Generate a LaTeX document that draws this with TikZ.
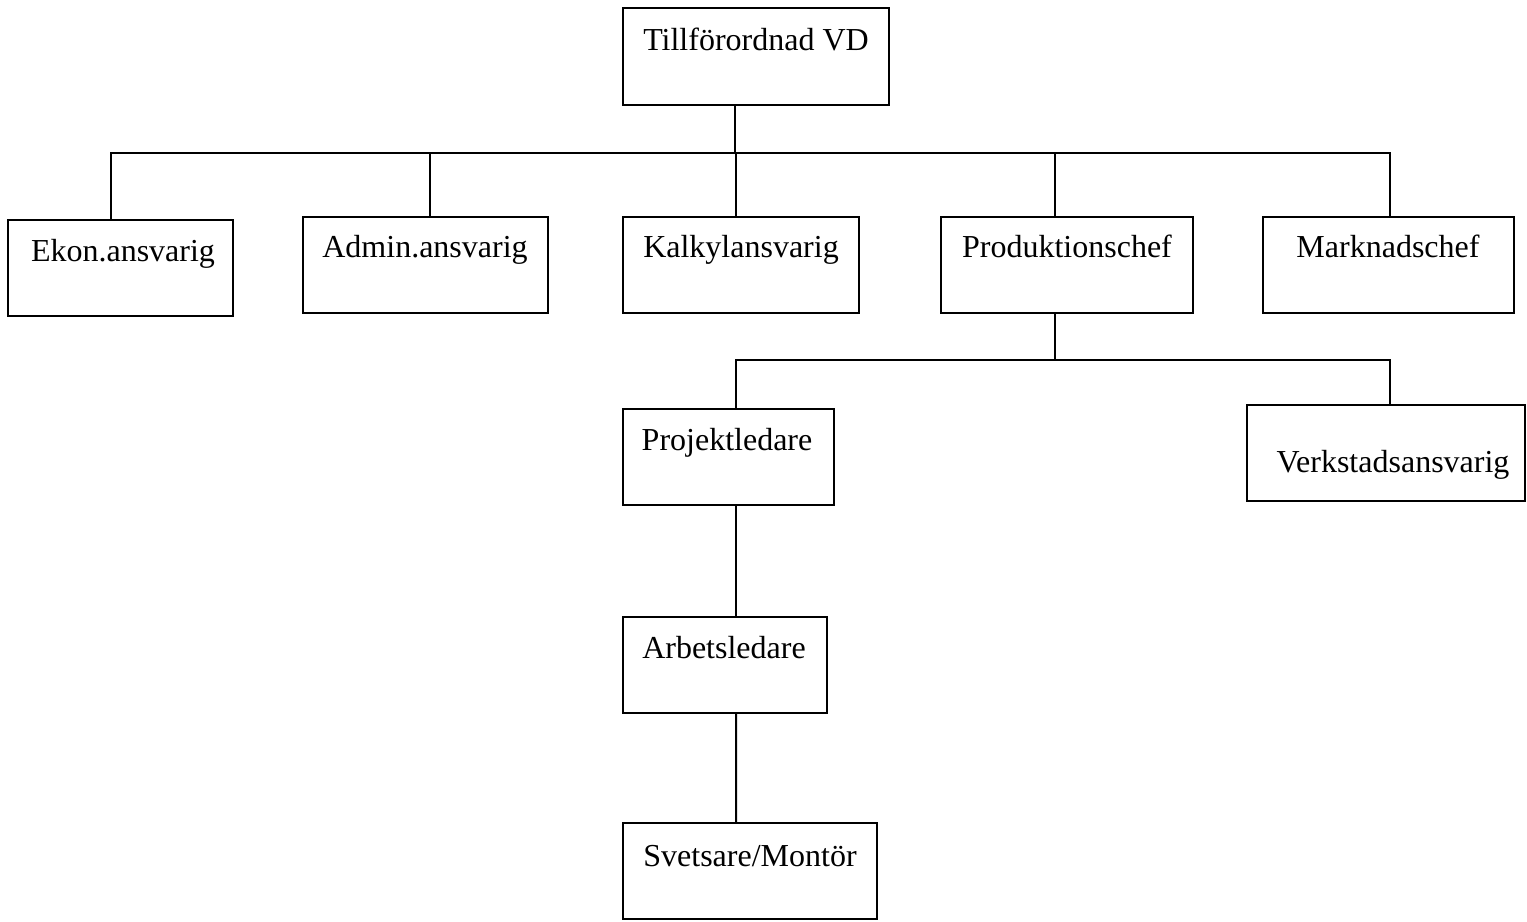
\documentclass[tikz,border=0pt]{standalone}
\usepackage{fontspec}
\setmainfont{Liberation Serif}
\begin{document}
\begin{tikzpicture}[x=0.5bp,y=-0.5bp,
  box/.style={draw,line width=1bp,inner sep=0pt,outer sep=0pt,anchor=north west,minimum height=48bp},
  lbl/.style={anchor=base,inner sep=0pt,font=\fontsize{16bp}{19bp}\selectfont},
  conn/.style={line width=1bp}]
\useasboundingbox (0,0) rectangle (1527,921);
% boxes
\node[box,minimum width=133bp,minimum height=48.5bp] (vd) at (623,8) {};
\node[box,minimum width=112.5bp] (ekon) at (8,220) {};
\node[box,minimum width=122.5bp] (admin) at (303,217) {};
\node[box,minimum width=118bp] (kalk) at (623,217) {};
\node[box,minimum width=126bp] (prod) at (941,217) {};
\node[box,minimum width=125.5bp] (markn) at (1263,217) {};
\node[box,minimum width=105.5bp] (proj) at (623,409) {};
\node[box,minimum width=139bp] (verk) at (1247,405) {};
\node[box,minimum width=102bp] (arb) at (623,617) {};
\node[box,minimum width=127bp] (svets) at (623,823) {};
% texts
\node[lbl] (vd-t) at (756,50) {Tillförordnad VD};
\node[lbl] (ekon-t) at (123,261) {Ekon.ansvarig};
\node[lbl] (admin-t) at (425,257) {Admin.ansvarig};
\node[lbl] (kalk-t) at (741,257) {Kalkylansvarig};
\node[lbl] (prod-t) at (1067,257) {Produktionschef};
\node[lbl] (markn-t) at (1388,257) {Marknadschef};
\node[lbl] (proj-t) at (727,450) {Projektledare};
\node[lbl] (verk-t) at (1393,472) {Verkstadsansvarig};
\node[lbl] (arb-t) at (724,658) {Arbetsledare};
\node[lbl] (svets-t) at (750,866) {Svetsare/Montör};
% connector points
\coordinate (bus1) at (0,153);
\coordinate (bus2) at (0,360);
\coordinate (cvd) at ([xshift=-10.5bp]vd.south);
\coordinate (cekon) at ([xshift=-4.75bp]ekon.north);
\coordinate (cadmin) at ([xshift=2.25bp]admin.north);
\coordinate (ckalk) at ([xshift=-2.5bp]kalk.north);
\coordinate (cprod) at ([xshift=-6bp]prod.north);
\coordinate (cprods) at ([xshift=-6bp]prod.south);
\coordinate (cmarkn) at ([xshift=0.75bp]markn.north);
\coordinate (cproj) at ([xshift=3.75bp]proj.north);
\coordinate (cprojs) at ([xshift=3.75bp]proj.south);
\coordinate (cverk) at ([xshift=2bp]verk.north);
\coordinate (carb) at ([xshift=5.5bp]arb.north);
\coordinate (carbs) at ([xshift=5.5bp]arb.south);
\coordinate (csvets) at ([xshift=-7bp]svets.north);
% connectors
\draw[conn] (cvd) -- (cvd |- bus1);
\draw[conn] (cekon) |- (bus1 -| cmarkn) -- (cmarkn);
\draw[conn] (cadmin) -- (cadmin |- bus1);
\draw[conn] (ckalk) -- (ckalk |- bus1);
\draw[conn] (cprod) -- (cprod |- bus1);
\draw[conn] (cprods) -- (cprods |- bus2);
\draw[conn] (cproj) |- (bus2 -| cverk) -- (cverk);
\draw[conn] (cprojs) -- (carb);
\draw[conn] (carbs) -- (csvets);
\end{tikzpicture}
\end{document}
